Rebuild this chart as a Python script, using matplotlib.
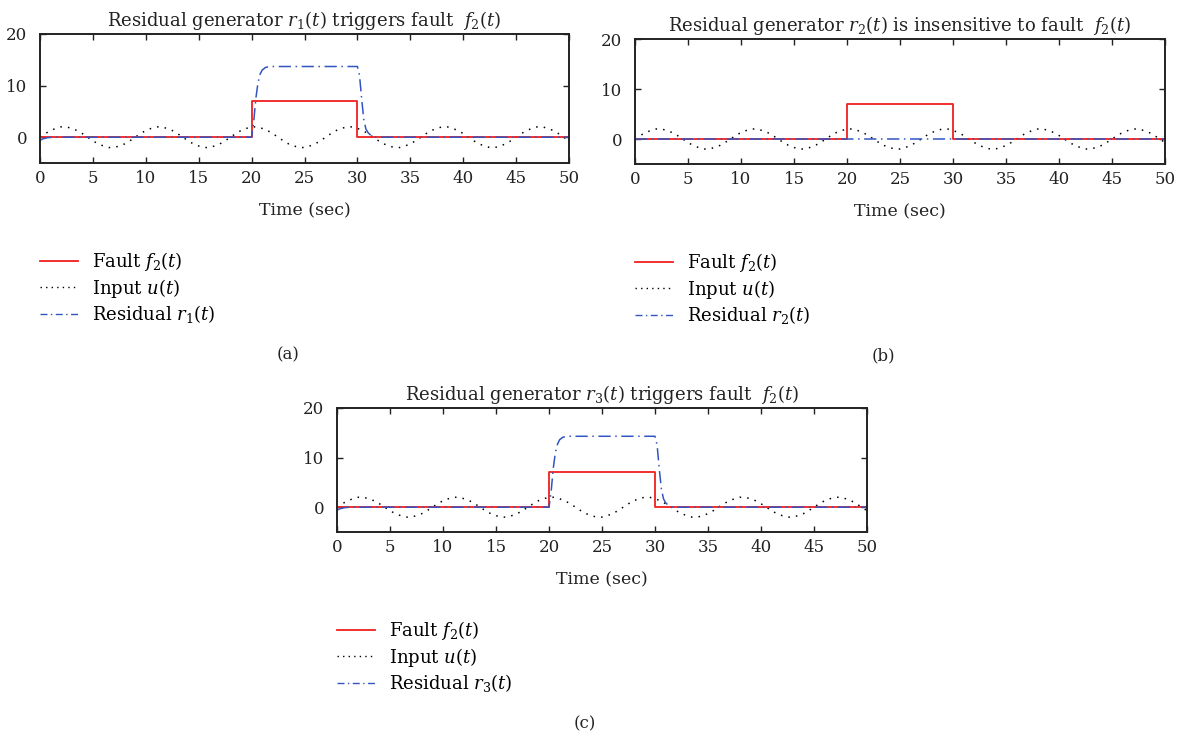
import matplotlib
matplotlib.use('Agg')
import matplotlib.pyplot as plt
from matplotlib.lines import Line2D

plt.rcParams['font.family'] = ['DejaVu Serif']
plt.rcParams['mathtext.fontset'] = 'dejavuserif'

t_input = [0.5 * k for k in range(101)]
u_input = [0.0, 0.7, 1.3, 1.7, 2.0, 2.0, 1.7, 1.3, 0.7, 0.0, -0.7, -1.3, -1.7, -2.0, -2.0, -1.7, -1.3, -0.7,
           0.0, 0.7, 1.3, 1.7, 2.0, 2.0, 1.7, 1.3, 0.7, 0.0, -0.7, -1.3, -1.7, -2.0, -2.0, -1.7, -1.3, -0.7,
           0.0, 0.7, 1.3, 1.7, 2.0, 2.0, 1.7, 1.3, 0.7, 0.0, -0.7, -1.3, -1.7, -2.0, -2.0, -1.7, -1.3, -0.7,
           0.0, 0.7, 1.3, 1.7, 2.0, 2.0, 1.7, 1.3, 0.7, 0.0, -0.7, -1.3, -1.7, -2.0, -2.0, -1.7, -1.3, -0.7,
           0.0, 0.7, 1.3, 1.7, 2.0, 2.0, 1.7, 1.3, 0.7, 0.0, -0.7, -1.3, -1.7, -2.0, -2.0, -1.7, -1.3, -0.7,
           0.0, 0.7, 1.3, 1.7, 2.0, 2.0, 1.7, 1.3, 0.7, 0.0, -0.7]

# fault f2(t): step of 7 between 20 and 30 s
fault_t = [0, 20, 20, 30, 30, 50]
fault_v = [0, 0, 7, 7, 0, 0]

# residuals
res_t = [0, 0.3, 0.7, 1.2, 20.0, 20.2, 20.4, 20.6, 20.8, 21.0, 21.3, 21.7,
         30.0, 30.2, 30.4, 30.6, 30.8, 31.0, 31.3, 31.7, 50]
r1 = [-0.6, -0.3, -0.1, 0, 0, 3.0, 7.5, 10.5, 12.2, 13.0, 13.5, 13.7,
      13.7, 12.0, 7.5, 3.5, 1.6, 0.9, 0.3, 0, 0]
r2 = [0, 0, 0, 0, 0, 0, 0, 0, 0, 0, 0, 0,
      0, 0, 0, 0, 0, 0, 0, 0, 0]
r3 = [-0.6, -0.3, -0.1, 0, 0, 3.1, 7.8, 11.0, 12.7, 13.6, 14.1, 14.3,
      14.3, 12.5, 7.8, 3.7, 1.7, 0.9, 0.3, 0, 0]

residuals = [r1, r2, r3]
titles = ['Residual generator $r_1(t)$ triggers fault  $f_2(t)$',
          'Residual generator $r_2(t)$ is insensitive to fault  $f_2(t)$',
          'Residual generator $r_3(t)$ triggers fault  $f_2(t)$']
res_labels = ['Residual $r_1(t)$', 'Residual $r_2(t)$', 'Residual $r_3(t)$']
panel_tags = ['(a)', '(b)', '(c)']

W, H = 1180, 737
# axes boxes in pixels: left, top, right, bottom
boxes = [(40, 34, 569, 163), (635, 39, 1165, 164), (337, 408, 867, 532)]

red = '#f02020'
blue = '#3355c0'
ink = '#222222'

fig = plt.figure(figsize=(W / 100, H / 100), dpi=100)

for i in range(3):
    l, t, r, b = boxes[i]
    ax = fig.add_axes([l / W, 1 - b / H, (r - l) / W, (b - t) / H])
    ax.plot(t_input, u_input, color='black', lw=1.1, linestyle=(0, (1, 4)))
    ax.plot(fault_t, fault_v, color=red, lw=1.3)
    ax.plot(res_t, residuals[i], color=blue, lw=1.1, linestyle=(0, (8, 3, 1, 3)))
    ax.set_xlim(0, 50)
    ax.set_ylim(-5, 20)
    ax.set_xticks(range(0, 51, 5))
    ax.set_yticks([0, 10, 20])
    ax.tick_params(direction='in', top=True, right=True, length=4, width=1,
                   labelsize=12, colors=ink)
    ax.tick_params(axis='x', pad=5)
    ax.tick_params(axis='y', pad=9)
    for s in ax.spines.values():
        s.set_linewidth(1.4)
        s.set_color(ink)
    ax.set_title(titles[i], fontsize=13, pad=6, color=ink)
    ax.set_xlabel('Time (sec)', fontsize=12.5, labelpad=11, color=ink)

    handles = [Line2D([], [], color=red, lw=1.3),
               Line2D([], [], color='black', lw=1.0, linestyle=(0, (1, 3))),
               Line2D([], [], color=blue, lw=1.0, linestyle=(0, (5, 2.5, 1, 2.5)))]
    labels = ['Fault $f_2(t)$', 'Input $u(t)$', res_labels[i]]
    fig.legend(handles, labels, loc='upper left',
               bbox_to_anchor=(l / W, 1 - (b + 87) / H),
               frameon=False, fontsize=13, handlelength=2.1, handletextpad=0.8,
               labelspacing=0.2, borderpad=0, borderaxespad=0)

    fig.text((l + 248) / W, 1 - (b + 192) / H, panel_tags[i], fontsize=12,
             ha='center', va='center', color=ink)

fig.savefig('out.png', dpi=100)
